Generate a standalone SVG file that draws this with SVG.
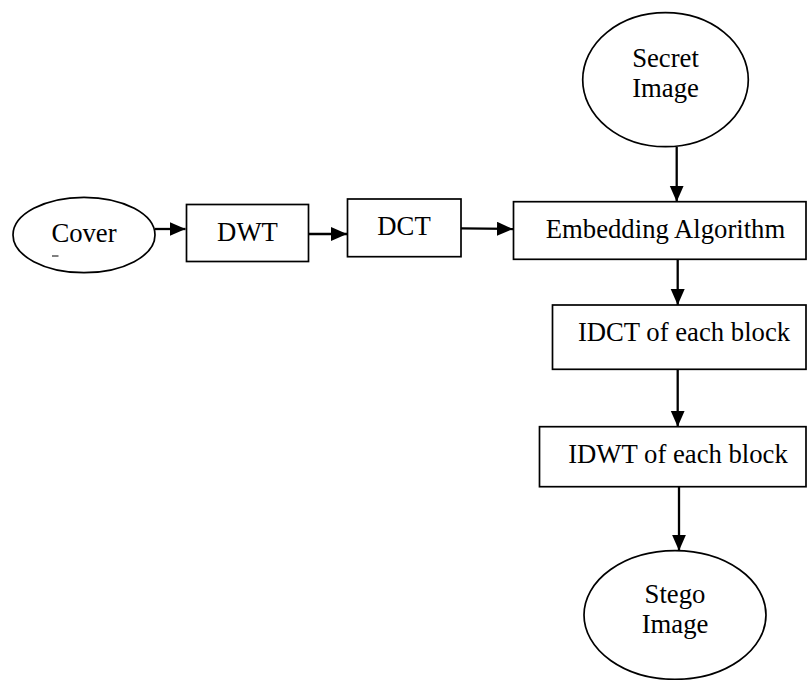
<svg xmlns="http://www.w3.org/2000/svg" width="807" height="680" viewBox="0 0 807 680">
<defs>
<style>
.shape{fill:#fff;stroke:#000;stroke-width:1.7}
.lbl{font-family:"Liberation Serif","Times New Roman",serif;font-size:26.7px;fill:#000;text-anchor:middle}
.conn{stroke:#000;stroke-width:2.3;fill:none}
</style>
<marker id="arr" markerUnits="userSpaceOnUse" markerWidth="17" markerHeight="15" refX="16" refY="7" orient="auto">
<path d="M0,0 L16,7 L0,14 z" fill="#000"/>
</marker>
</defs>
<rect width="807" height="680" fill="#fff"/>
<g id="connectors">
<line class="conn" x1="155" y1="229" x2="185.5" y2="229" marker-end="url(#arr)"/>
<line class="conn" x1="309" y1="234" x2="347" y2="234" marker-end="url(#arr)"/>
<line class="conn" x1="461" y1="228.3" x2="513" y2="229" marker-end="url(#arr)"/>
<line class="conn" x1="676.7" y1="147" x2="676.7" y2="201.7" marker-end="url(#arr)"/>
<line class="conn" x1="677.7" y1="259.3" x2="677.7" y2="305" marker-end="url(#arr)"/>
<line class="conn" x1="677.7" y1="369.3" x2="677.7" y2="426.7" marker-end="url(#arr)"/>
<line class="conn" x1="679" y1="486.7" x2="679" y2="550.7" marker-end="url(#arr)"/>
</g>
<g id="cover">
<ellipse class="shape" cx="84" cy="235" rx="71" ry="37.7"/>
<text class="lbl" x="84" y="241.7">Cover</text>
<line x1="52" y1="256" x2="58.5" y2="256" stroke="#000" stroke-width="1"/>
</g>
<g id="dwt">
<rect class="shape" x="186.5" y="204.5" width="122" height="57"/>
<text class="lbl" x="247.5" y="240.7">DWT</text>
</g>
<g id="dct">
<rect class="shape" x="347.5" y="199" width="113.5" height="57.7"/>
<text class="lbl" x="404" y="235">DCT</text>
</g>
<g id="secret">
<ellipse class="shape" cx="665.5" cy="79.7" rx="82.8" ry="67"/>
<text class="lbl" x="665.5" y="66.5">Secret</text>
<text class="lbl" x="665.5" y="96.5">Image</text>
</g>
<g id="embedding">
<rect class="shape" x="513.5" y="201.7" width="292.5" height="57.6"/>
<text class="lbl" x="665.5" y="237.5">Embedding Algorithm</text>
</g>
<g id="idct">
<rect class="shape" x="552.5" y="305" width="253.5" height="64.3"/>
<text class="lbl" x="684" y="340.7">IDCT of each block</text>
</g>
<g id="idwt">
<rect class="shape" x="539.5" y="426.7" width="266.5" height="60"/>
<text class="lbl" x="678" y="462.7">IDWT of each block</text>
</g>
<g id="stego">
<ellipse class="shape" cx="675" cy="615" rx="91" ry="64.3"/>
<text class="lbl" x="675" y="603.3">Stego</text>
<text class="lbl" x="675" y="633.3">Image</text>
</g>
</svg>
